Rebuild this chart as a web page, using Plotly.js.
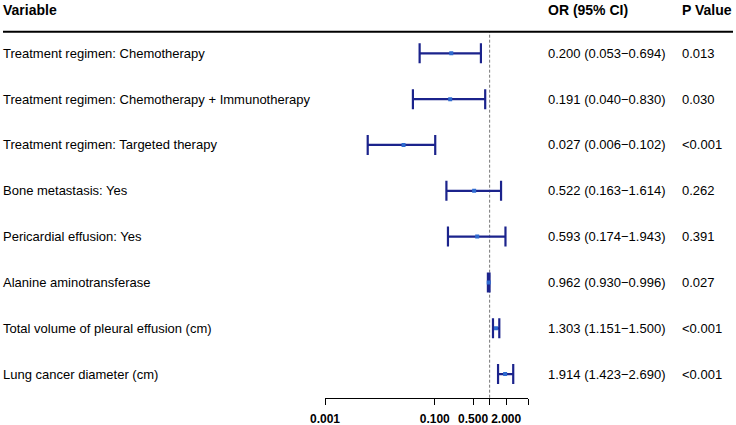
<!DOCTYPE html>
<html>
<head>
<meta charset="utf-8">
<script src="https://cdn.plot.ly/plotly-3.0.1.min.js"></script>
<style>html,body{margin:0;padding:0;background:#fff;}#chart{width:736px;height:425px;}</style>
</head>
<body>
<div id="chart"></div>
<script>
const variables = [
  "Treatment regimen: Chemotherapy",
  "Treatment regimen: Chemotherapy + Immunotherapy",
  "Treatment regimen: Targeted therapy",
  "Bone metastasis: Yes",
  "Pericardial effusion: Yes",
  "Alanine aminotransferase",
  "Total volume of pleural effusion (cm)",
  "Lung cancer diameter (cm)"
];
const orValues = [0.200, 0.191, 0.027, 0.522, 0.593, 0.962, 1.303, 1.914];
const ciLower  = [0.053, 0.040, 0.006, 0.163, 0.174, 0.930, 1.151, 1.423];
const ciUpper  = [0.694, 0.830, 0.102, 1.614, 1.943, 0.996, 1.500, 2.690];
const pValues  = ["0.013", "0.030", "<0.001", "0.262", "0.391", "0.027", "<0.001", "<0.001"];
const tickVals = [0.001, 0.1, 0.5, 1, 2, 5];
const tickText = ["0.001", "0.100", "0.500", "", "2.000", ""];

const W = 736, H = 425;
const px = x => x / W;
const py = y => (H - y) / H;
const rows = variables.map((_, i) => i + 1);
const fmt = v => v.toFixed(3);

const trace = {
  type: "scatter",
  mode: "markers",
  x: orValues,
  y: rows,
  marker: {symbol: "square", size: 4, color: "#2f6bd0"},
  error_x: {
    type: "data",
    symmetric: false,
    array: orValues.map((v, i) => ciUpper[i] - v),
    arrayminus: orValues.map((v, i) => v - ciLower[i]),
    color: "#1b238c",
    thickness: 2.2,
    width: 10
  },
  hoverinfo: "skip",
  showlegend: false
};

const txtFont = {family: "Liberation Sans, Arial, sans-serif", size: 13, color: "#000"};
const hdrFont = {family: "Liberation Sans, Arial, sans-serif", size: 14, color: "#000", weight: "bold"};

const annotations = [];
annotations.push({xref: "paper", yref: "paper", x: px(1), y: py(10), text: "Variable", showarrow: false, xanchor: "left", yanchor: "middle", font: hdrFont});
annotations.push({xref: "paper", yref: "paper", x: px(546), y: py(10), text: "OR (95% CI)", showarrow: false, xanchor: "left", yanchor: "middle", font: hdrFont});
annotations.push({xref: "paper", yref: "paper", x: px(680), y: py(10), text: "P Value", showarrow: false, xanchor: "left", yanchor: "middle", font: hdrFont});
variables.forEach((v, i) => {
  annotations.push({xref: "paper", yref: "y", x: px(1), y: rows[i], text: v, showarrow: false, xanchor: "left", yanchor: "middle", font: txtFont});
  annotations.push({xref: "paper", yref: "y", x: px(546), y: rows[i], text: fmt(orValues[i]) + " (" + fmt(ciLower[i]) + "\u2212" + fmt(ciUpper[i]) + ")", showarrow: false, xanchor: "left", yanchor: "middle", font: txtFont});
  annotations.push({xref: "paper", yref: "y", x: px(680), y: rows[i], text: pValues[i], showarrow: false, xanchor: "left", yanchor: "middle", font: txtFont});
});

const yTop = 31.7, yBot = 397.7, row1 = 53.3, rowStep = 45.83;
const vTop = 1 - (row1 - yTop) / rowStep;
const vBot = rows.length + (yBot - (row1 + (rows.length - 1) * rowStep)) / rowStep;

const layout = {
  width: W, height: H,
  margin: {l: 0, r: 0, t: 0, b: 0},
  paper_bgcolor: "#fff", plot_bgcolor: "#fff",
  xaxis: {
    type: "log",
    domain: [px(325), px(528)],
    range: [Math.log10(0.001), Math.log10(5)],
    tickmode: "array", tickvals: tickVals, ticktext: tickText,
    ticks: "outside", ticklen: 6, tickwidth: 1, tickcolor: "#000",
    ticklabelstandoff: 4,
    showline: true, linecolor: "#000", linewidth: 1,
    showgrid: false, zeroline: false,
    tickfont: {family: "Liberation Sans, Arial, sans-serif", size: 12, color: "#000", weight: "bold"},
    fixedrange: true
  },
  yaxis: {
    domain: [py(yBot), py(yTop)],
    range: [vBot, vTop],
    showticklabels: false, showgrid: false, zeroline: false, showline: false, ticks: "",
    fixedrange: true
  },
  shapes: [
    {type: "line", xref: "paper", yref: "paper", x0: px(3), x1: px(733), y0: py(yTop), y1: py(yTop), line: {color: "#000", width: 2}},
    {type: "line", xref: "x", yref: "paper", x0: 1, x1: 1, y0: py(yBot), y1: py(yTop), line: {color: "#777777", width: 1, dash: "3px,2px"}, layer: "below"}
  ],
  annotations: annotations
};

Plotly.newPlot("chart", [trace], layout, {staticPlot: true, displayModeBar: false});
</script>
</body>
</html>
